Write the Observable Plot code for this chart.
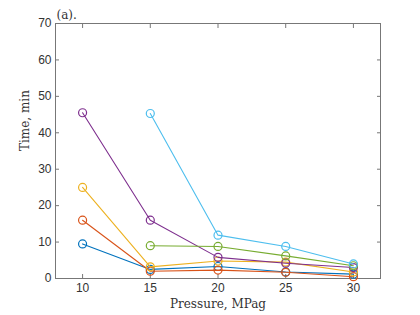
<!DOCTYPE html>
<html><head><meta charset="utf-8">
<script src="https://cdn.jsdelivr.net/npm/d3@7"></script>
<script src="https://cdn.jsdelivr.net/npm/@observablehq/plot@0.6"></script>
<style>body{margin:0;background:#fff;} #c{width:420px;height:315px;}</style>
</head><body><div id="c"></div>
<script>
const pressure = [10, 15, 20, 25, 30];
const s1 = [9.5, 2.5, 3.3, 1.8, 1.2];
const s2 = [16, 2.0, 2.3, 1.7, 0.5];
const s3 = [25, 3.2, 4.8, 4.5, 1.8];
const s4 = [45.5, 16, 5.8, 4.2, 3.0];
const s5 = [null, 9.0, 8.8, 6.2, 3.5];
const s6 = [null, 45.3, 11.9, 8.8, 4.0];
const seriesNames = ["s1","s2","s3","s4","s5","s6"];
const seriesValues = [s1, s2, s3, s4, s5, s6];
const colors = ["#0072BD", "#D95319", "#EDB120", "#7E2F8E", "#77AC30", "#4DBEEE"];
const yTicks = [0, 10, 20, 30, 40, 50, 60, 70];
const xTicks = [10, 15, 20, 25, 30];

const data = [];
seriesValues.forEach((vals, i) => vals.forEach((v, j) => {
  if (v != null) data.push({series: seriesNames[i], p: pressure[j], t: v});
}));

const tickFont = "Liberation Sans, Arial, sans-serif";
const serif = "DejaVu Serif, Liberation Serif, serif";

const marks = [
  Plot.frame({stroke: "#777", strokeWidth: 1}),
  Plot.axisX({ticks: xTicks, tickSize: -4, tickPadding: 9, tickFormat: d => d, fontSize: 12, fontFamily: tickFont, label: null, stroke: "#777", fill: "#333"}),
  Plot.axisX({anchor: "top", ticks: xTicks, tickSize: -4, tickFormat: () => "", label: null, stroke: "#777"}),
  Plot.axisY({ticks: yTicks, tickSize: -4, tickPadding: 8, fontSize: 12, fontFamily: tickFont, label: null, stroke: "#777", fill: "#333"}),
  Plot.axisY({anchor: "right", ticks: yTicks, tickSize: -4, tickFormat: () => "", label: null, stroke: "#777"}),
];
seriesNames.forEach((name, i) => {
  const d = data.filter(r => r.series === name);
  marks.push(Plot.line(d, {x: "p", y: "t", stroke: colors[i], strokeWidth: 1.1}));
  marks.push(Plot.dot(d, {x: "p", y: "t", stroke: colors[i], r: 4, strokeWidth: 1.2, fill: "none"}));
});
marks.push(Plot.text(["(a)."], {frameAnchor: "top-left", textAnchor: "start", lineAnchor: "bottom", dy: -5, dx: 1, fontSize: 12, fontFamily: serif, fill: "#333"}));
marks.push(Plot.text(["Pressure, MPag"], {frameAnchor: "bottom", lineAnchor: "top", dy: 21, fontSize: 12, fontFamily: serif, fill: "#333"}));
marks.push(Plot.text(["Time, min"], {frameAnchor: "left", rotate: -90, lineAnchor: "bottom", dx: -27, fontSize: 12, fontFamily: serif, fill: "#333"}));

const chart = Plot.plot({
  width: 420, height: 315,
  marginLeft: 55, marginRight: 40, marginTop: 23, marginBottom: 37,
  x: {domain: [8, 32]},
  y: {domain: [0, 70]},
  style: {background: "#fff"},
  marks
});
document.getElementById("c").appendChild(chart);
</script></body></html>
